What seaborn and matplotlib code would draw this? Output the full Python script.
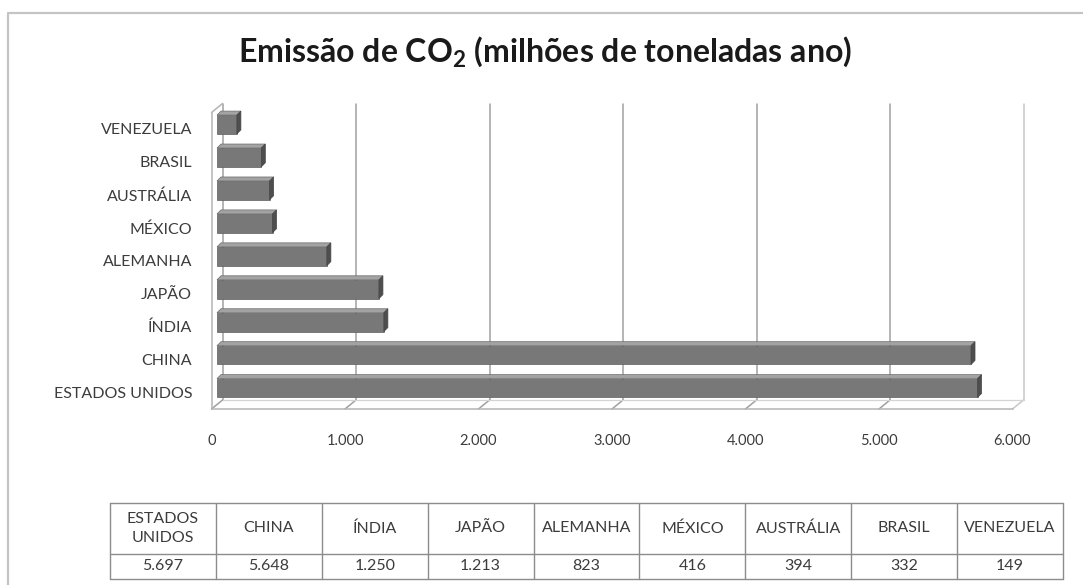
import matplotlib
matplotlib.use("Agg")
import matplotlib.pyplot as plt
import seaborn as sns
import pandas as pd
from matplotlib.ticker import FuncFormatter
from matplotlib.transforms import ScaledTranslation, IdentityTransform
from matplotlib.patches import Polygon
from matplotlib.lines import Line2D

# ---------------- data ----------------
countries = ["ESTADOS UNIDOS", "CHINA", "ÍNDIA", "JAPÃO", "ALEMANHA",
             "MÉXICO", "AUSTRÁLIA", "BRASIL", "VENEZUELA"]
table_labels = ["ESTADOS\nUNIDOS", "CHINA", "ÍNDIA", "JAPÃO", "ALEMANHA",
                "MÉXICO", "AUSTRÁLIA", "BRASIL", "VENEZUELA"]
emissions = [5697, 5648, 1250, 1213, 823, 416, 394, 332, 149]
x_ticks = [0, 1000, 2000, 3000, 4000, 5000, 6000]
title = "Emissão de CO$_\\mathbf{2}$ (milhões de toneladas ano)"

# ---------------- style ----------------
sns.set_theme(style="white")
plt.rcParams["font.family"] = ["Lato", "DejaVu Sans"]
plt.rcParams["mathtext.fontset"] = "custom"
plt.rcParams["mathtext.rm"] = "Lato"
plt.rcParams["mathtext.bf"] = "Lato:bold"

W, H = 1083, 585
DPI = 100
fig = plt.figure(figsize=(W / DPI, H / DPI), dpi=DPI)
fig.patch.set_facecolor("white")


def fx(px):
    return px / W


def fy(py):
    return 1 - py / H


def fig_line(xs_px, ys_px, **kw):
    ln = Line2D([fx(x) for x in xs_px], [fy(y) for y in ys_px],
                transform=fig.transFigure, **kw)
    fig.add_artist(ln)
    return ln


TXT = "#3c3c3c"
GRID = "#a0a0a0"

# outer chart border
fig_line([8, 8, 1083], [585, 13, 13], color="#c4c4c4", lw=1.6, zorder=-2)

# ---------------- bar chart ----------------
ax = fig.add_axes([fx(217), fy(404.5), fx(1018) - fx(217), (404.5 - 108) / H])
ax.set_facecolor("none")
df = pd.DataFrame({"country": countries, "value": emissions})
order = countries[::-1]
sns.barplot(data=df, x="value", y="country", order=order, orient="h",
            color="#787878", saturation=1, width=0.57, ax=ax,
            edgecolor="#5e5e5e", linewidth=0.5)
ax.set_xlim(0, 6000)
ax.set_ylim(8.5, -0.5)
for s in ax.spines.values():
    s.set_visible(False)
ax.grid(False)
ax.set_xlabel("")
ax.set_ylabel("")
ax.set_xticks(x_ticks)
ax.xaxis.set_major_formatter(FuncFormatter(lambda v, p: f"{int(v):,}".replace(",", ".")))
ax.tick_params(axis="x", length=0, pad=21, labelsize=10.5, labelcolor=TXT)
ax.tick_params(axis="y", length=0, pad=18, labelsize=11.5, labelcolor=TXT)
for lab in ax.get_xticklabels():
    lab.set_transform(lab.get_transform() + ScaledTranslation(-5.5 / DPI, 0, fig.dpi_scale_trans))
for lab in ax.get_yticklabels():
    lab.set_transform(lab.get_transform() + ScaledTranslation(0, -4.5 / DPI, fig.dpi_scale_trans))

# 3D box (walls / floor) drawn in display pixels
BX, BY = 5.5, 4.5      # offset to back wall
FX, FY = -5.5, -4.5    # offset to front edge


def disp(x, y):
    return ax.transData.transform((x, y))


def dline(p, q, **kw):
    ln = Line2D([p[0], q[0]], [p[1], q[1]], transform=IdentityTransform(),
                **kw)
    fig.add_artist(ln)


for v in x_ticks:
    b0 = disp(v, 8.5)
    b1 = disp(v, -0.5)
    col = "#c8c8c8" if v == x_ticks[-1] else GRID
    dline((b0[0] + BX, b0[1] + BY), (b1[0] + BX, b1[1] + BY), color=col, lw=1.1, zorder=-1)
    dline((b0[0] + BX, b0[1] + BY), (b0[0] + FX, b0[1] + FY), color=col, lw=1.1, zorder=-1)

p0 = disp(0, 8.5)
p1 = disp(6000, 8.5)
t0 = disp(0, -0.5)
dline((p0[0] + FX, p0[1] + FY), (p1[0] + FX, p1[1] + FY), color="#b4b4b4", lw=1.1, zorder=-1)
dline((p0[0] + BX, p0[1] + BY), (p1[0] + BX, p1[1] + BY), color="#d4d4d4", lw=0.9, zorder=-1)
dline((p0[0] + FX, p0[1] + FY), (t0[0] + FX, t0[1] + FY), color="#b4b4b4", lw=1.1, zorder=-1)
dline((t0[0] + FX, t0[1] + FY), (t0[0] + BX, t0[1] + BY), color="#b4b4b4", lw=1.1, zorder=-1)

# 3D faces of the bars
D = 4.0
for p in ax.patches:
    x0, y0, w, h = p.get_x(), p.get_y(), p.get_width(), p.get_height()
    a = disp(x0, y0)
    b = disp(x0 + w, y0 + h)
    L, R = min(a[0], b[0]), max(a[0], b[0])
    Bo, T = min(a[1], b[1]), max(a[1], b[1])
    top = Polygon([(L, T), (R, T), (R + D, T + D), (L + D, T + D)], closed=True,
                  transform=IdentityTransform(), facecolor="#a3a3a3",
                  edgecolor="#6a6a6a", lw=0.5, clip_on=False)
    side = Polygon([(R, Bo), (R, T), (R + D, T + D), (R + D, Bo + D)], closed=True,
                   transform=IdentityTransform(), facecolor="#4e4e4e",
                   edgecolor="#444444", lw=0.5, clip_on=False)
    ax.add_artist(top)
    ax.add_artist(side)

# ---------------- title ----------------
fig.text(fx(545), fy(52), title, ha="center", va="center", fontsize=23,
         fontweight="bold", color="#1a1a1a")

# ---------------- data table ----------------
tax = fig.add_axes([fx(110), fy(579), fx(1063) - fx(110), (579 - 503) / H])
tax.set_xlim(0, 9)
tax.set_ylim(0, 3)
tax.axis("off")
TB = "#8c8c8c"
for yv in [0, 1, 3]:
    tax.plot([0, 9], [yv, yv], color=TB, lw=1, clip_on=False)
for xv in range(10):
    tax.plot([xv, xv], [0, 3], color=TB, lw=1, clip_on=False)
for i, (lab, val) in enumerate(zip(table_labels, emissions)):
    tax.text(i + 0.5, 2, lab, ha="center", va="center", fontsize=11.5,
             color=TXT, linespacing=1.4)
    tax.text(i + 0.5, 0.5, f"{val:,}".replace(",", "."), ha="center",
             va="center", fontsize=11.5, color=TXT)

fig.savefig("out.png", dpi=DPI)
